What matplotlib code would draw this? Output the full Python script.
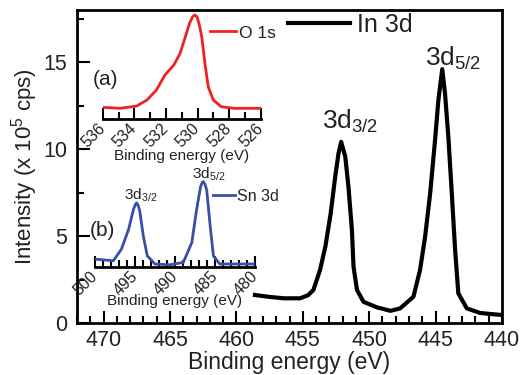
import numpy as np
import matplotlib
matplotlib.use('Agg')
import matplotlib.pyplot as plt
from matplotlib.ticker import MultipleLocator

plt.rcParams['font.family'] = ['Liberation Sans', 'DejaVu Sans']
plt.rcParams['mathtext.fontset'] = 'custom'
plt.rcParams['mathtext.rm'] = 'Liberation Sans'
plt.rcParams['mathtext.it'] = 'Liberation Sans:italic'
plt.rcParams['mathtext.bf'] = 'Liberation Sans:bold'

# In 3d (main), binding energy in eV, intensity in 1e5 cps
in_x = [458.6, 457.5, 456.4, 455.2, 454.6, 454.2, 453.7, 453.3, 452.9, 452.56,
        452.31, 452.11, 451.8, 451.56, 451.3, 451.18, 450.92, 450.43, 449.42, 448.4,
        447.67, 446.67, 446.17, 445.79, 445.41, 445.04, 444.79, 444.5, 444.29, 444.04,
        443.78, 443.53, 443.29, 442.65, 441.65, 440.9, 440.0]
in_y = [1.61, 1.5, 1.42, 1.42, 1.6, 1.9, 3.05, 4.39, 6.3, 8.41,
        9.75, 10.42, 9.56, 7.83, 5.34, 3.24, 1.9, 1.22, 0.9, 0.7,
        0.84, 1.51, 3.05, 4.96, 7.45, 10.52, 12.82, 14.6, 13.2, 10.71,
        7.45, 4.2, 1.71, 0.84, 0.58, 0.52, 0.46]

# O 1s inset (a), normalised intensity
o_x = [536.0, 534.9, 533.85, 533.2, 532.6, 532.06, 531.5, 531.1, 530.7, 530.5,
       530.3, 530.16, 530.02, 529.88, 529.73, 529.53, 529.32, 529.0, 528.5, 527.7,
       526.9, 526.0]
o_y = [0.107, 0.098, 0.119, 0.174, 0.266, 0.404, 0.495, 0.602, 0.786, 0.88,
       0.94, 0.954, 0.935, 0.86, 0.755, 0.511, 0.296, 0.174, 0.113, 0.098,
       0.098, 0.098]

# Sn 3d inset (b), normalised intensity
sn_x = [500.0, 497.7, 496.7, 495.8, 495.2, 494.95, 494.8, 494.6, 494.4, 493.96,
        493.46, 492.5, 490.6, 488.96, 487.9, 487.3, 486.8, 486.6, 486.46, 486.25,
        486.04, 485.6, 485.2, 484.4, 482.7, 480.0]
sn_y = [0.069, 0.052, 0.173, 0.38, 0.586, 0.64, 0.656, 0.63, 0.569, 0.31,
        0.103, 0.018, 0.01, 0.035, 0.242, 0.586, 0.827, 0.87, 0.879, 0.85,
        0.793, 0.414, 0.103, 0.018, 0.018, 0.018]

txt = '#222222'
W, H = 522, 375
fig = plt.figure(figsize=(5.22, 3.75), dpi=100)

def px_axes(l, r, top, bot):
    return fig.add_axes([l / W, 1 - bot / H, (r - l) / W, (bot - top) / H])

# main axes
ax = px_axes(77, 502, 10, 323)
ax.plot(in_x, in_y, color='black', linewidth=3, label='In 3d', solid_joinstyle='round')
ax.set_xlim(472, 440)
ax.set_ylim(0, 18)
ax.xaxis.set_major_locator(MultipleLocator(5))
ax.xaxis.set_minor_locator(MultipleLocator(1))
ax.yaxis.set_major_locator(MultipleLocator(5))
ax.yaxis.set_minor_locator(MultipleLocator(2.5))
ax.tick_params(which='both', direction='in', width=1.5, labelsize=15.5, colors='black',
               labelcolor=txt, top=False, right=False)
ax.tick_params(which='major', length=9)
ax.tick_params(which='minor', length=5)
ax.tick_params(axis='x', pad=5)
ax.tick_params(axis='y', pad=7)
for s in ax.spines.values():
    s.set_linewidth(2)
ax.set_xlabel('Binding energy (eV)', fontsize=16.5, color=txt, labelpad=0)
ax.set_ylabel('Intensity (x 10$^5$ cps)', fontsize=16, color=txt, labelpad=2)
ax.text(451.4, 11.6, '3d$_{3/2}$', fontsize=19, color=txt, ha='center', va='center')
ax.text(443.7, 15.2, '3d$_{5/2}$', fontsize=19, color=txt, ha='center', va='center')
ax.legend(loc='center left', bbox_to_anchor=(0.496, 0.952), frameon=False, fontsize=18,
          handlelength=2.5, handletextpad=0.25, borderpad=0, borderaxespad=0,
          labelcolor=txt)

def style_inset(a):
    for k in ['top', 'right', 'left']:
        a.spines[k].set_visible(False)
    a.spines['bottom'].set_linewidth(2)
    a.patch.set_alpha(0)
    a.set_yticks([])
    a.tick_params(which='both', direction='in', width=1.5, labelsize=11.5,
                  labelcolor=txt, pad=5)
    a.tick_params(which='major', length=8)
    a.tick_params(which='minor', length=5)
    for lab in a.get_xticklabels():
        lab.set_rotation(45)
        lab.set_ha('right')
        lab.set_va('center')
        lab.set_rotation_mode('anchor')

# inset (a) O 1s
axa = px_axes(102.7, 260.7, 10, 119)
axa.plot(o_x, o_y, color='#ee2222', linewidth=2, label='O 1s')
axa.set_xlim(536, 526)
axa.set_ylim(0, 1)
axa.xaxis.set_major_locator(MultipleLocator(2))
axa.xaxis.set_minor_locator(MultipleLocator(1))
style_inset(axa)
axa.set_xlabel('Binding energy (eV)', fontsize=11, color=txt, labelpad=-1)
axa.text(-0.065, 0.36, '(a)', transform=axa.transAxes, fontsize=15, color=txt,
         ha='left', va='center')
axa.legend(loc='center left', bbox_to_anchor=(0.679, 0.789), frameon=False, fontsize=12.5,
           handlelength=1.5, handletextpad=0.15, borderpad=0, borderaxespad=0,
           labelcolor=txt)

# inset (b) Sn 3d
axb = px_axes(95, 255, 170, 266.7)
axb.plot(sn_x, sn_y, color='#3a4ea8', linewidth=2, label='Sn 3d')
axb.set_xlim(500, 480)
axb.set_ylim(-0.01, 1)
axb.xaxis.set_major_locator(MultipleLocator(5))
axb.xaxis.set_minor_locator(MultipleLocator(1))
style_inset(axb)
axb.set_xlabel('Binding energy (eV)', fontsize=11, color=txt, labelpad=-3)
axb.text(-0.03, 0.37, '(b)', transform=axb.transAxes, fontsize=15, color=txt,
         ha='left', va='center')
axb.text(494.25, 0.74, '3d$_{3/2}$', fontsize=11, color=txt, ha='center', va='center')
axb.text(485.75, 0.95, '3d$_{5/2}$', fontsize=11, color=txt, ha='center', va='center')
axb.legend(loc='center left', bbox_to_anchor=(0.7375, 0.731), frameon=False, fontsize=11.5,
           handlelength=1.4, handletextpad=0.1, borderpad=0, borderaxespad=0,
           labelcolor=txt)

fig.savefig('out.png', dpi=100)
